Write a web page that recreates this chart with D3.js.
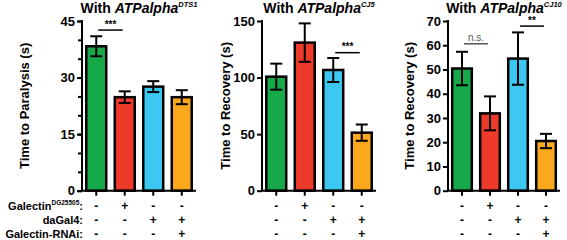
<!DOCTYPE html>
<html>
  <head>
    <meta charset="utf-8">
    <title>ATPalpha panels</title>
    <style>
      body { margin: 0; background: #fff; }
      text { font-family: "Liberation Sans", Arial, sans-serif; font-weight: bold; }
    </style>
  </head>
  <body>
    <div id="container"></div>
    <script src="https://d3js.org/d3.v7.min.js"></script>
    <script>

      // DATA
      var genotypes = ["ctrl", "galectin", "daGal4", "rnai"];
      var barColors = ["#17a84a", "#ee3a2a", "#3cc8f0", "#fba81c"];

      var paralysisMean = [38.3, 24.8, 27.6, 24.8];
      var paralysisErr = [2.65, 1.55, 1.45, 1.85];
      var paralysisTicks = [0, 15, 30, 45];

      var recoveryCJ5Mean = [100.8, 130.9, 106.7, 51.3];
      var recoveryCJ5Err = [11.5, 17.0, 10.6, 7.2];
      var recoveryCJ5Ticks = [0, 50, 100, 150];

      var recoveryCJ10Mean = [50.4, 31.9, 54.5, 20.5];
      var recoveryCJ10Err = [6.9, 7.0, 10.8, 2.95];
      var recoveryCJ10Ticks = [0, 10, 20, 30, 40, 50, 60, 70];

      var rowLabels = ["Galectin", "daGal4:", "Galectin-RNAi:"];
      var rowGalectin = ["-", "+", "-", "-"];
      var rowDaGal4 = ["-", "-", "+", "+"];
      var rowRNAi = ["-", "-", "-", "+"];

      // SET DIMENSIONS
      var W = 567, H = 240;
      var yTop = 21, yBottom = 190.7;
      var rowY = [210, 223.5, 237.5];

      var svg = d3.select("#container")
        .append("svg")
        .attr("width", W)
        .attr("height", H);

      var panels = [
        { left: 82, width: 114, mean: paralysisMean, err: paralysisErr, ticks: paralysisTicks,
          minor: d3.range(0, 46, 5), sup: "DTS1", ylabel: "Time to Paralysis (s)", labelX: 24,
          sig: [{ a: 0, b: 1, v: 42.6, t: "***" }] },
        { left: 262, width: 114, mean: recoveryCJ5Mean, err: recoveryCJ5Err, ticks: recoveryCJ5Ticks,
          minor: [], sup: "CJ5", ylabel: "Time to Recovery (s)", labelX: 225,
          sig: [{ a: 2, b: 3, v: 122, t: "***" }] },
        { left: 448, width: 112, mean: recoveryCJ10Mean, err: recoveryCJ10Err, ticks: recoveryCJ10Ticks,
          minor: [], sup: "CJ10", ylabel: "Time to Recovery (s)", labelX: 409,
          sig: [{ a: 0, b: 1, v: 60.6, t: "n.s.", grey: true }, { a: 2, b: 3, v: 67.9, t: "**" }] }
      ];

      panels.forEach(function (p) {
        var maxV = p.ticks[p.ticks.length - 1];
        var y = d3.scaleLinear().domain([0, maxV]).range([yBottom, yTop]);
        var x = d3.scaleBand()
          .domain(genotypes)
          .range([p.left, p.left + p.width])
          .paddingInner(0.3)
          .paddingOuter(0.15);
        var cx = function (i) { return x(genotypes[i]) + x.bandwidth() / 2; };

        var g = svg.append("g");

        // BARS
        g.selectAll(".bar")
          .data(p.mean)
          .enter()
          .append("rect")
          .attr("x", function (d, i) { return x(genotypes[i]); })
          .attr("y", function (d) { return y(d); })
          .attr("width", x.bandwidth())
          .attr("height", function (d) { return y(0) - y(d); })
          .attr("fill", function (d, i) { return barColors[i]; })
          .attr("stroke", "#000")
          .attr("stroke-width", 2.5);

        // ERROR BARS
        var eb = g.selectAll(".err")
          .data(p.mean)
          .enter()
          .append("g");
        eb.append("line")
          .attr("x1", function (d, i) { return cx(i); })
          .attr("x2", function (d, i) { return cx(i); })
          .attr("y1", function (d, i) { return y(d - p.err[i]); })
          .attr("y2", function (d, i) { return y(d + p.err[i]); })
          .attr("stroke", "#000").attr("stroke-width", 2);
        [-1, 1].forEach(function (s) {
          eb.append("line")
            .attr("x1", function (d, i) { return cx(i) - 6; })
            .attr("x2", function (d, i) { return cx(i) + 6; })
            .attr("y1", function (d, i) { return y(d + s * p.err[i]); })
            .attr("y2", function (d, i) { return y(d + s * p.err[i]); })
            .attr("stroke", "#000").attr("stroke-width", 2);
        });

        // Y AXIS
        var yAxis = g.append("g")
          .attr("transform", "translate(" + p.left + ",0)")
          .call(d3.axisLeft(y).tickValues(p.ticks).tickSize(5).tickPadding(2));
        yAxis.selectAll("text").style("font-size", "13px").attr("fill", "#000");
        if (p.minor.length) {
          g.append("g")
            .attr("transform", "translate(" + p.left + ",0)")
            .call(d3.axisLeft(y).tickValues(p.minor).tickSize(4).tickFormat(""))
            .select(".domain").remove();
        }

        // X AXIS
        var xAxis = g.append("g")
          .attr("transform", "translate(0," + yBottom + ")")
          .call(d3.axisBottom(x).tickSize(5).tickFormat(""));

        g.selectAll(".domain, .tick line").attr("stroke", "#000").attr("stroke-width", 2);
        xAxis.select(".domain").attr("d", "M" + p.left + ",0H" + (p.left + p.width));
        yAxis.select(".domain").attr("d", "M0," + yBottom + "V" + (yTop - 1));

        // Y LABEL
        g.append("text")
          .attr("transform", "translate(" + p.labelX + "," + ((yTop + yBottom) / 2) + ") rotate(-90)")
          .attr("text-anchor", "middle")
          .attr("dy", "0.35em")
          .style("font-size", "13px")
          .text(p.ylabel);

        // TITLE
        var title = g.append("text")
          .attr("x", p.left + p.width / 2)
          .attr("y", 12.5)
          .attr("text-anchor", "middle")
          .style("font-size", "14px");
        title.append("tspan").text("With ");
        title.append("tspan").style("font-style", "italic").text("ATPalpha");
        title.append("tspan").style("font-style", "italic").style("font-size", "7.5px")
          .attr("dy", -6).text(p.sup);

        // SIGNIFICANCE
        p.sig.forEach(function (s) {
          g.append("line")
            .attr("x1", cx(s.a) + 2).attr("x2", cx(s.b) - 2)
            .attr("y1", y(s.v)).attr("y2", y(s.v))
            .attr("stroke", s.grey ? "#555" : "#000").attr("stroke-width", 1.5);
          g.append("text")
            .attr("x", (cx(s.a) + cx(s.b)) / 2)
            .attr("y", y(s.v) - 2.5)
            .attr("text-anchor", "middle")
            .style("font-size", "10px")
            .style("font-weight", s.grey ? "normal" : "bold")
            .attr("fill", s.grey ? "#555" : "#000")
            .text(s.t);
        });

        // GENOTYPE ROWS
        var rows = [rowGalectin, rowDaGal4, rowRNAi];
        rows.forEach(function (r, ri) {
          g.selectAll(".sign" + ri)
            .data(r)
            .enter()
            .append("text")
            .attr("x", function (d, i) { return cx(i); })
            .attr("y", rowY[ri])
            .attr("text-anchor", "middle")
            .style("font-size", "12px")
            .text(function (d) { return d; });
        });
      });

      // ROW LABELS
      var gl = svg.append("text")
        .attr("x", 83).attr("y", rowY[0])
        .attr("text-anchor", "end")
        .style("font-size", "11px");
      gl.append("tspan").text(rowLabels[0]);
      gl.append("tspan").style("font-size", "6.5px").attr("dy", -5).text("DG25505");
      gl.append("tspan").attr("dy", 5).text(":");
      rowLabels.slice(1).forEach(function (l, i) {
        svg.append("text")
          .attr("x", 83).attr("y", rowY[i + 1])
          .attr("text-anchor", "end")
          .style("font-size", "11px")
          .text(l);
      });

    </script>
  </body>
</html>
